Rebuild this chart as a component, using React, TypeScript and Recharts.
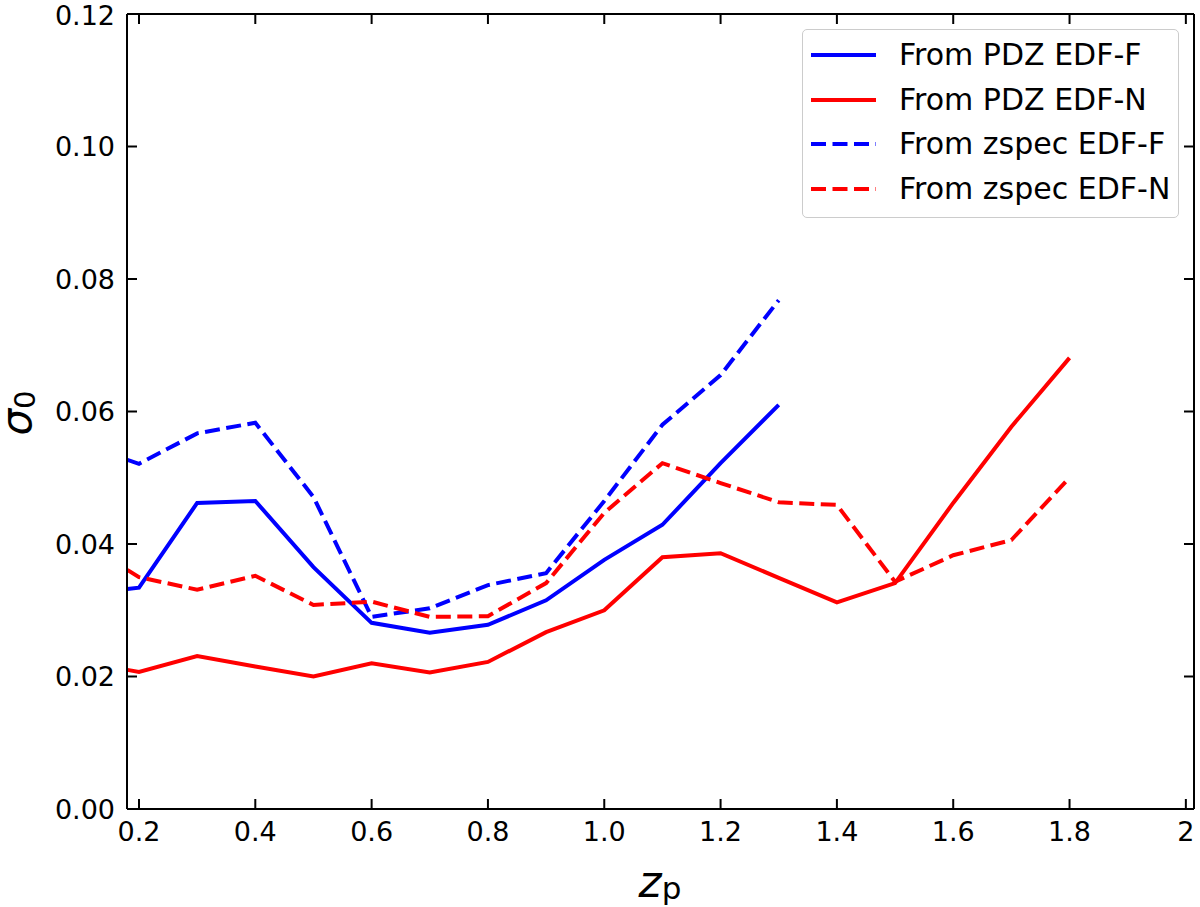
import React from 'react';
import { LineChart, Line, XAxis, YAxis, Legend } from 'recharts';

const zp = [0.18, 0.2, 0.3, 0.4, 0.5, 0.6, 0.7, 0.8, 0.9, 1.0, 1.1, 1.2, 1.3, 1.4, 1.5, 1.6, 1.7, 1.8];
const pdzEdfF = [0.0332, 0.0334, 0.0462, 0.0465, 0.0365, 0.0281, 0.0266, 0.0278, 0.0315, 0.0376, 0.0429, 0.0522, 0.0610];
const pdzEdfN = [0.0210, 0.0207, 0.0231, 0.0215, 0.0200, 0.0220, 0.0206, 0.0222, 0.0267, 0.0300, 0.0380, 0.0386, 0.0349, 0.0312, 0.0341, 0.0462, 0.0577, 0.0681];
const zspecEdfF = [0.0527, 0.0521, 0.0567, 0.0583, 0.0471, 0.0290, 0.0303, 0.0338, 0.0356, 0.0465, 0.0580, 0.0655, 0.0768];
const zspecEdfN = [0.0361, 0.0350, 0.0331, 0.0352, 0.0308, 0.0313, 0.0290, 0.0291, 0.0341, 0.0447, 0.0522, 0.0492, 0.0463, 0.0459, 0.0343, 0.0383, 0.0406, 0.0500];

const xTicks = [0.2, 0.4, 0.6, 0.8, 1.0, 1.2, 1.4, 1.6, 1.8, 2.0];
const yTicks = [0, 0.02, 0.04, 0.06, 0.08, 0.1, 0.12];

const seriesNames = ['From PDZ EDF-F', 'From PDZ EDF-N', 'From zspec EDF-F', 'From zspec EDF-N'];

const data = zp.map((z, i) => ({
  z,
  pdzF: pdzEdfF[i],
  pdzN: pdzEdfN[i],
  zspecF: zspecEdfF[i],
  zspecN: zspecEdfN[i],
}));

const FONT = 'DejaVu Sans';
const BLUE = '#0000ff';
const RED = '#ff0000';
const DASH = '15 6.5';
const X_DOMAIN: [number, number] = [0.1794, 2.014];

const series = [
  { key: 'pdzF', name: seriesNames[0], color: BLUE, dash: undefined as string | undefined },
  { key: 'pdzN', name: seriesNames[1], color: RED, dash: undefined as string | undefined },
  { key: 'zspecF', name: seriesNames[2], color: BLUE, dash: DASH },
  { key: 'zspecN', name: seriesNames[3], color: RED, dash: DASH },
];

const tickStyle = { fill: '#000', fontSize: 27, fontFamily: FONT };
const axisLineStyle = { stroke: '#000', strokeWidth: 2 };

const SigmaLabel = () => (
  <text
    x={31}
    y={413}
    transform="rotate(-90, 31, 413)"
    textAnchor="middle"
    fontFamily={FONT}
    fill="#000"
  >
    <tspan fontSize={42} fontStyle="italic">σ</tspan>
    <tspan fontSize={29} dy={4}>0</tspan>
  </text>
);

const ZpLabel = () => (
  <text x={660} y={897} textAnchor="middle" fontFamily={FONT} fill="#000">
    <tspan fontSize={44} fontStyle="italic">z</tspan>
    <tspan fontSize={31} dy={2}>p</tspan>
  </text>
);

const LegendBox = () => (
  <div
    style={{
      width: 377,
      height: 189,
      boxSizing: 'border-box',
      border: '1.5px solid #cccccc',
      borderRadius: 5,
      background: 'rgba(255,255,255,0.85)',
      paddingTop: 3,
      fontFamily: FONT,
    }}
  >
    {series.map((s) => (
      <div key={s.key} style={{ height: 44.5, display: 'flex', alignItems: 'center' }}>
        <svg width={96} height={20} style={{ flex: 'none' }}>
          <line x1={8} x2={73} y1={10} y2={10} stroke={s.color} strokeWidth={4} strokeDasharray={s.dash} />
        </svg>
        <span style={{ fontSize: 30, color: '#000', whiteSpace: 'nowrap', lineHeight: '30px' }}>{s.name}</span>
      </div>
    ))}
  </div>
);

export default function App() {
  return (
    <div style={{ position: 'absolute', left: 0, top: 0, width: 1200, height: 907, background: '#fff' }}>
      <LineChart width={1200} height={907} data={data} margin={{ top: 0, right: 0, bottom: 0, left: 0 }}>
        <XAxis
          dataKey="z"
          type="number"
          domain={X_DOMAIN}
          allowDataOverflow
          ticks={xTicks}
          tickFormatter={(v: number) => (v === 2 ? '2' : v.toFixed(1))}
          height={98}
          tickSize={-10}
          tickMargin={23}
          tick={tickStyle}
          axisLine={axisLineStyle}
          tickLine={axisLineStyle}
          label={<ZpLabel />}
        />
        <XAxis
          xAxisId="top"
          dataKey="z"
          orientation="top"
          type="number"
          domain={X_DOMAIN}
          allowDataOverflow
          ticks={xTicks}
          tickFormatter={() => ''}
          height={14}
          tickSize={-10}
          axisLine={axisLineStyle}
          tickLine={axisLineStyle}
        />
        <YAxis
          type="number"
          domain={[0, 0.12]}
          allowDataOverflow
          ticks={yTicks}
          tickFormatter={(v: number) => v.toFixed(2)}
          width={127}
          tickSize={-10}
          tickMargin={22}
          tick={tickStyle}
          axisLine={axisLineStyle}
          tickLine={axisLineStyle}
          label={<SigmaLabel />}
        />
        <YAxis
          yAxisId="right"
          orientation="right"
          type="number"
          domain={[0, 0.12]}
          allowDataOverflow
          ticks={yTicks}
          tickFormatter={() => ''}
          width={6}
          tickSize={-10}
          axisLine={axisLineStyle}
          tickLine={axisLineStyle}
        />
        <Legend
          layout="vertical"
          align="center"
          verticalAlign="middle"
          width={377}
          content={() => <LegendBox />}
          wrapperStyle={{ left: 802, top: 29, width: 377, height: 189 }}
        />
        {series.map((s) => (
          <Line
            key={s.key}
            dataKey={s.key}
            name={s.name}
            type="linear"
            stroke={s.color}
            strokeWidth={4}
            strokeDasharray={s.dash}
            dot={false}
            activeDot={false}
            isAnimationActive={false}
          />
        ))}
      </LineChart>
    </div>
  );
}
